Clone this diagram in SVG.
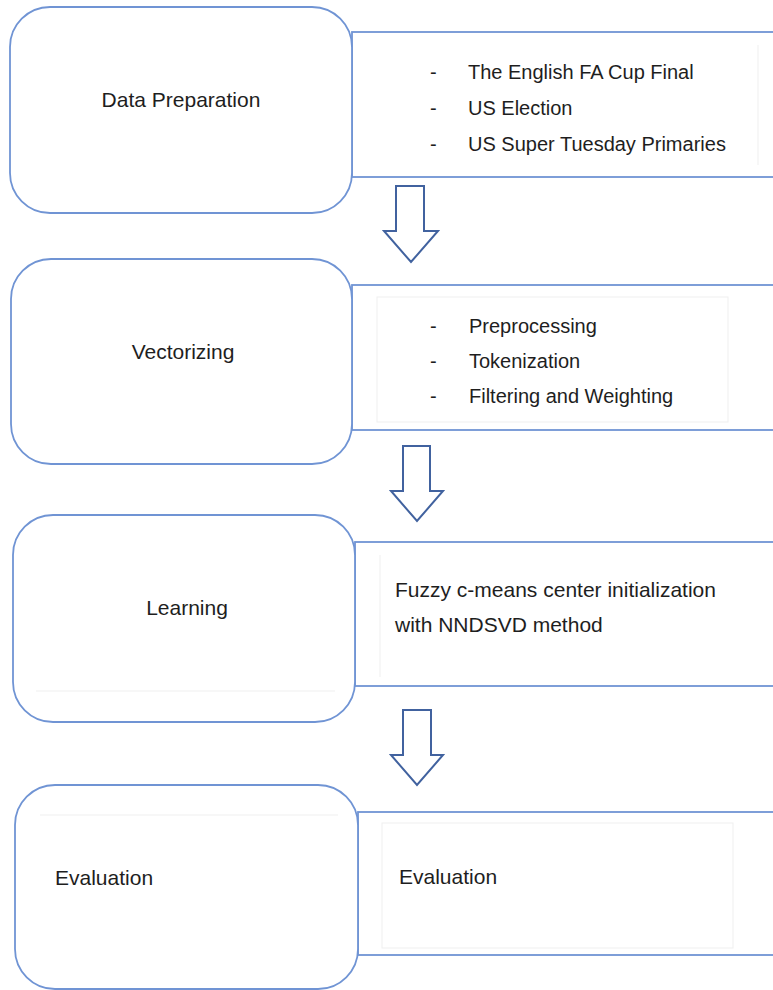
<svg xmlns="http://www.w3.org/2000/svg" width="773" height="990" viewBox="0 0 773 990">
<defs>
<style>
.box{fill:#fff;stroke:#7094d4;stroke-width:1.8}
.side{fill:#fff;stroke:#7094d4;stroke-width:1.8}
.faint{fill:none;stroke:#efefef;stroke-width:1}
.arrow{fill:#fff;stroke:#41629f;stroke-width:2;stroke-linejoin:miter}
text{font-family:"Liberation Sans","Noto Sans",Arial,sans-serif;fill:#1e1e1e}
.lbl{font-size:21px}
.lst{font-size:20px}
</style>
</defs>
<rect width="773" height="990" fill="#fff"/>

<g id="node-data-preparation">
<rect class="side" x="352" y="32" width="440" height="145"/>
<line class="faint" x1="758" y1="45" x2="758" y2="165"/>
<rect class="box" x="10" y="7" width="342" height="206" rx="40" ry="40"/>
<text class="lbl" x="181" y="107" text-anchor="middle">Data Preparation</text>
<text class="lst" x="430" y="79">-</text>
<text class="lst" x="468" y="79">The English FA Cup Final</text>
<text class="lst" x="430" y="115">-</text>
<text class="lst" x="468" y="115">US Election</text>
<text class="lst" x="430" y="151">-</text>
<text class="lst" x="468" y="151">US Super Tuesday Primaries</text>
</g>

<g id="node-vectorizing">
<rect class="side" x="352" y="285" width="440" height="145"/>
<rect class="faint" x="377" y="297" width="351" height="125"/>
<rect class="box" x="11" y="259" width="341" height="205" rx="40" ry="40"/>
<text class="lbl" x="183" y="359" text-anchor="middle">Vectorizing</text>
<text class="lst" x="430" y="333">-</text>
<text class="lst" x="469" y="333">Preprocessing</text>
<text class="lst" x="430" y="368">-</text>
<text class="lst" x="469" y="368">Tokenization</text>
<text class="lst" x="430" y="403">-</text>
<text class="lst" x="469" y="403">Filtering and Weighting</text>
</g>

<g id="node-learning">
<rect class="side" x="355" y="542" width="440" height="144"/>
<line class="faint" x1="380" y1="555" x2="380" y2="677"/>
<rect class="box" x="13" y="515" width="342" height="207" rx="40" ry="40"/>
<line class="faint" x1="36" y1="691" x2="335" y2="691"/>
<text class="lbl" x="187" y="615" text-anchor="middle">Learning</text>
<text class="lbl" x="395" y="597">Fuzzy c-means center initialization</text>
<text class="lbl" x="395" y="632">with NNDSVD method</text>
</g>

<g id="node-evaluation">
<rect class="side" x="358" y="812" width="440" height="143"/>
<rect class="faint" x="382" y="823" width="351" height="125"/>
<rect class="box" x="15" y="785" width="343" height="204" rx="40" ry="40"/>
<line class="faint" x1="40" y1="815" x2="338" y2="815"/>
<text class="lbl" x="55" y="885">Evaluation</text>
<text class="lbl" x="399" y="884">Evaluation</text>
</g>

<g id="connectors">
<path class="arrow" d="M396,186 H424 V231 H438 L411,262 L384,231 H396 Z"/>
<path class="arrow" d="M403,446 H430 V491 H443 L417,521 L391,491 H403 Z"/>
<path class="arrow" d="M403,710 H431 V755 H443 L417,785 L391,755 H403 Z"/>
</g>
</svg>
